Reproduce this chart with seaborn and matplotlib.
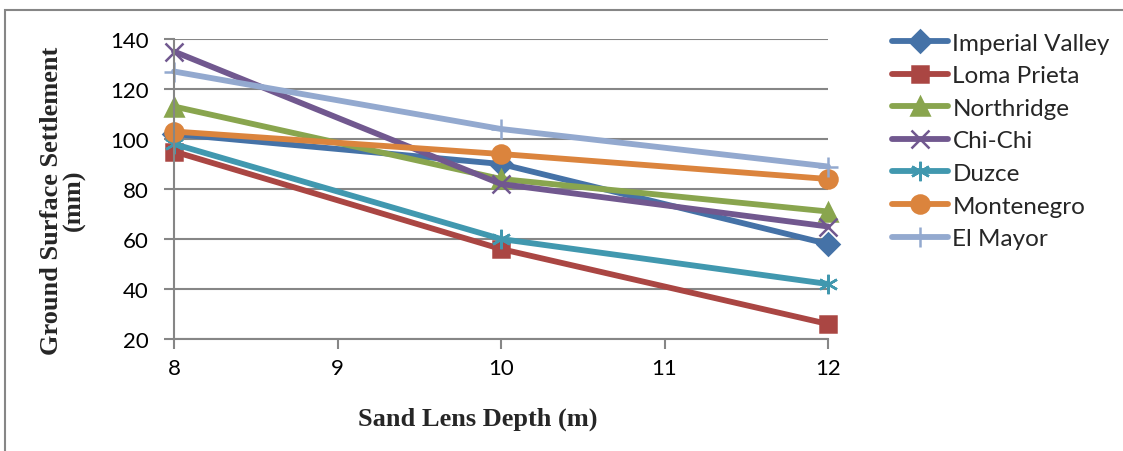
import matplotlib
matplotlib.use("Agg")
import matplotlib.pyplot as plt
import seaborn as sns
import pandas as pd
from matplotlib.patches import Rectangle

# ---- data ----
depths = [8, 10, 12]
series_names = ["Imperial Valley", "Loma Prieta", "Northridge", "Chi-Chi",
                "Duzce", "Montenegro", "El Mayor"]
imperial_valley = [102, 90, 58]
loma_prieta = [95, 56, 26]
northridge = [113, 84, 71]
chi_chi = [135, 82, 65]
duzce = [98, 60, 42]
montenegro = [103, 94, 84]
el_mayor = [127, 104, 89]
series_values = [imperial_valley, loma_prieta, northridge, chi_chi,
                 duzce, montenegro, el_mayor]
x_ticks = [8, 9, 10, 11, 12]
y_ticks = [20, 40, 60, 80, 100, 120, 140]

colors = ["#4572A7", "#AA4643", "#89A54E", "#71588F", "#4198AF", "#DB843D", "#93A9CF"]
marker_list = ["D", "s", "^", "x", (6, 2, 0), "o", "+"]
marker_sizes = [11, 12, 13, 13, 14, 13, 14]

rows = []
for name, vals in zip(series_names, series_values):
    for d, v in zip(depths, vals):
        rows.append({"Depth": d, "Settlement": v, "Event": name})
df = pd.DataFrame(rows)

sns.set_theme(style="white")
plt.rcParams["font.family"] = ["Lato", "DejaVu Sans"]

fig = plt.figure(figsize=(11.23, 4.52), dpi=100)
ax = fig.add_axes([174/1123, 1-340/452, (828-174)/1123, 300/452])

for name, c, m, ms in zip(series_names, colors, marker_list, marker_sizes):
    sub = df[df["Event"] == name]
    sns.lineplot(data=sub, x="Depth", y="Settlement", color=c, marker=m,
                 markersize=ms, markeredgecolor=c, markerfacecolor=c,
                 markeredgewidth=1.8, linewidth=4.2, label=name, ax=ax,
                 clip_on=False)

ax.set_xlim(8, 12)
ax.set_ylim(20, 140)
ax.set_xticks(x_ticks)
ax.set_yticks(y_ticks)
ax.tick_params(axis="both", labelsize=16, colors="#868686", labelcolor="black",
               direction="out", length=7, width=1.5, left=True, bottom=True)
ax.tick_params(axis="y", pad=11)
ax.tick_params(axis="x", pad=7)
ax.yaxis.grid(True, color="#868686", linewidth=1.5)
ax.xaxis.grid(False)
ax.set_axisbelow(True)
for s in ["top", "right"]:
    ax.spines[s].set_visible(False)
for s in ["left", "bottom"]:
    ax.spines[s].set_color("#868686")
    ax.spines[s].set_linewidth(1.5)

ax.set_xlabel("Sand Lens Depth (m)", fontsize=19, fontweight="bold",
              family="Liberation Serif")
ax.set_ylabel("Ground Surface Settlement\n(mm)", fontsize=19, fontweight="bold",
              family="Liberation Serif", linespacing=0.95)
ax.xaxis.set_label_coords((478-174)/654, -(408-340)/300)
ax.yaxis.set_label_coords(-(174-86)/654, 0.465)

handles, labels = ax.get_legend_handles_labels()
ax.legend(handles, labels, loc="upper left", bbox_to_anchor=(882/1123, 1-24/452),
          bbox_transform=fig.transFigure, frameon=False, fontsize=17.5,
          handlelength=2.3, handletextpad=0.2, labelspacing=0.475, borderaxespad=0)

fig.patches.append(Rectangle((5/1123, -0.2), 1.5, 1.2 - 11/452, fill=False,
                             edgecolor="#868686", linewidth=1.5,
                             transform=fig.transFigure, figure=fig))

fig.savefig("out.png", dpi=100)
